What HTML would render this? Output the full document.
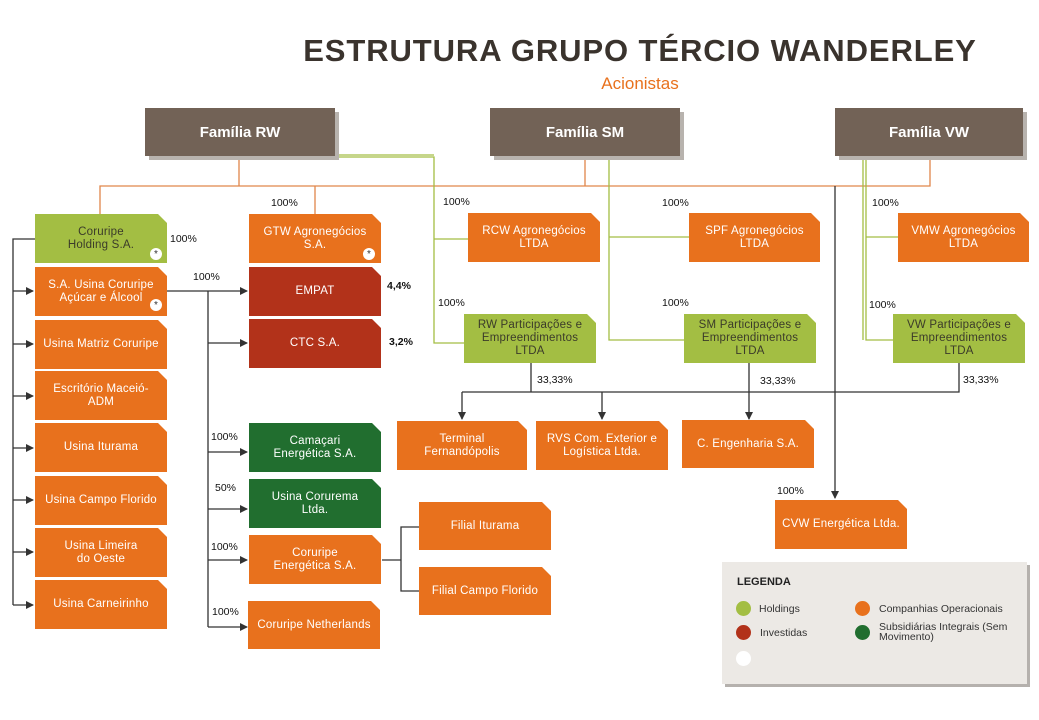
<!DOCTYPE html>
<html><head><meta charset="utf-8"><style>
body{margin:0;width:1039px;height:720px;background:#fff;position:relative;overflow:hidden;font-family:"Liberation Sans",sans-serif}
.b{position:absolute;color:#fff;font-size:11.5px;line-height:13px;display:flex;align-items:center;justify-content:center;text-align:center;clip-path:polygon(0 0,calc(100% - 9px) 0,100% 9px,100% 100%,0 100%);letter-spacing:.2px}
.o{background:#e8711d}.g{background:#a3be43;color:#3b3b2a}.r{background:#b2321a}.d{background:#216e2f}
.f{position:absolute;background:#726256;color:#fff;font-weight:bold;font-size:15px;display:flex;align-items:center;justify-content:center;box-shadow:4px 4px 0 #b8b3ae}
.p{position:absolute;font-size:10.5px;color:#111}
.s{position:absolute;width:12px;height:12px;border-radius:50%;background:#fff;color:#333;font-size:10px;line-height:14px;text-align:center}
.dot{position:absolute;width:15px;height:15px;border-radius:50%}
.lt{position:absolute;font-size:10.5px;color:#333;line-height:10px}
</style></head><body>
<div style="position:absolute;left:0;width:1280px;top:33px;text-align:center;font-weight:bold;font-size:31px;color:#3a332d;letter-spacing:0.9px">ESTRUTURA GRUPO TÉRCIO WANDERLEY</div>
<div style="position:absolute;left:0;width:1280px;top:74px;text-align:center;font-size:17px;color:#e8711d">Acionistas</div>
<svg width="1039" height="720" style="position:absolute;left:0;top:0">
<defs><marker id="a" markerWidth="8" markerHeight="8" refX="7" refY="4" orient="auto" markerUnits="userSpaceOnUse"><path d="M0,0 L8,4 L0,8z" fill="#333"/></marker></defs>
<g stroke="#e0864a" stroke-width="1.3" fill="none">
<path d="M100,214V186H930V156M239,156V186M585,156V186M315,186V214"/>
</g>
<g stroke="#a3be43" stroke-width="1.3" fill="none">
<path d="M239,157H434V343H464M328,155H434M434,239H468M609,157V340H684M609,237H689M866,157V340H893M866,237H898M863,157V340"/>
</g>
<g stroke="#333" stroke-width="1.3" fill="none">
<path d="M35,239H13V605"/>
<path d="M13,291H33" marker-end="url(#a)"/><path d="M13,344H33" marker-end="url(#a)"/><path d="M13,396H33" marker-end="url(#a)"/><path d="M13,448H33" marker-end="url(#a)"/><path d="M13,500H33" marker-end="url(#a)"/><path d="M13,552H33" marker-end="url(#a)"/><path d="M13,605H33" marker-end="url(#a)"/>
<path d="M167,291H247" marker-end="url(#a)"/>
<path d="M208,291V627"/>
<path d="M208,343H247" marker-end="url(#a)"/><path d="M208,452H247" marker-end="url(#a)"/><path d="M208,509H247" marker-end="url(#a)"/><path d="M208,560H247" marker-end="url(#a)"/><path d="M208,627H247" marker-end="url(#a)"/>
<path d="M382,560H401V527H419M401,560V591H419"/>
<path d="M531,363V392M462,392H959V363"/>
<path d="M462,392V419" marker-end="url(#a)"/><path d="M602,392V419" marker-end="url(#a)"/><path d="M749,363V419" marker-end="url(#a)"/>
<path d="M835,186V498" marker-end="url(#a)"/>
</g>
</svg>
<div class="f" style="left:145px;top:108px;width:190px;height:48px">Família RW</div>
<div class="f" style="left:490px;top:108px;width:190px;height:48px">Família SM</div>
<div class="f" style="left:835px;top:108px;width:188px;height:48px">Família VW</div>

<div class="b g" style="left:35px;top:214px;width:132px;height:49px">Coruripe<br>Holding S.A.</div>
<div class="b o" style="left:35px;top:267px;width:132px;height:49px">S.A. Usina Coruripe<br>Açúcar e Álcool</div>
<div class="b o" style="left:35px;top:320px;width:132px;height:49px">Usina Matriz Coruripe</div>
<div class="b o" style="left:35px;top:371px;width:132px;height:49px">Escritório Maceió-<br>ADM</div>
<div class="b o" style="left:35px;top:423px;width:132px;height:49px">Usina Iturama</div>
<div class="b o" style="left:35px;top:476px;width:132px;height:49px">Usina Campo Florido</div>
<div class="b o" style="left:35px;top:528px;width:132px;height:49px">Usina Limeira<br>do Oeste</div>
<div class="b o" style="left:35px;top:580px;width:132px;height:49px">Usina Carneirinho</div>
<div class="s" style="left:150px;top:248px">*</div>
<div class="s" style="left:150px;top:299px">*</div>

<div class="b o" style="left:249px;top:214px;width:132px;height:49px">GTW Agronegócios<br>S.A.</div>
<div class="s" style="left:363px;top:248px">*</div>
<div class="b r" style="left:249px;top:267px;width:132px;height:49px">EMPAT</div>
<div class="b r" style="left:249px;top:319px;width:132px;height:49px">CTC S.A.</div>
<div class="b d" style="left:249px;top:423px;width:132px;height:49px">Camaçari<br>Energética S.A.</div>
<div class="b d" style="left:249px;top:479px;width:132px;height:49px">Usina Corurema<br>Ltda.</div>
<div class="b o" style="left:249px;top:535px;width:132px;height:49px">Coruripe<br>Energética S.A.</div>
<div class="b o" style="left:248px;top:601px;width:132px;height:48px">Coruripe Netherlands</div>
<div class="b o" style="left:419px;top:502px;width:132px;height:48px">Filial Iturama</div>
<div class="b o" style="left:419px;top:567px;width:132px;height:48px">Filial Campo Florido</div>

<div class="b o" style="left:468px;top:213px;width:132px;height:49px">RCW Agronegócios<br>LTDA</div>
<div class="b o" style="left:689px;top:213px;width:131px;height:49px">SPF Agronegócios<br>LTDA</div>
<div class="b o" style="left:898px;top:213px;width:131px;height:49px">VMW Agronegócios<br>LTDA</div>
<div class="b g" style="left:464px;top:314px;width:132px;height:49px">RW Participações e<br>Empreendimentos<br>LTDA</div>
<div class="b g" style="left:684px;top:314px;width:132px;height:49px">SM Participações e<br>Empreendimentos<br>LTDA</div>
<div class="b g" style="left:893px;top:314px;width:132px;height:49px">VW Participações e<br>Empreendimentos<br>LTDA</div>
<div class="b o" style="left:397px;top:421px;width:130px;height:49px">Terminal<br>Fernandópolis</div>
<div class="b o" style="left:536px;top:421px;width:132px;height:49px">RVS Com. Exterior e<br>Logística Ltda.</div>
<div class="b o" style="left:682px;top:420px;width:132px;height:48px">C. Engenharia S.A.</div>
<div class="b o" style="left:775px;top:500px;width:132px;height:49px">CVW Energética Ltda.</div>

<div class="p" style="left:170px;top:233px">100%</div>
<div class="p" style="left:271px;top:197px">100%</div>
<div class="p" style="left:193px;top:271px">100%</div>
<div class="p" style="left:387px;top:280px;font-weight:bold">4,4%</div>
<div class="p" style="left:389px;top:336px;font-weight:bold">3,2%</div>
<div class="p" style="left:443px;top:196px">100%</div>
<div class="p" style="left:662px;top:197px">100%</div>
<div class="p" style="left:872px;top:197px">100%</div>
<div class="p" style="left:438px;top:297px">100%</div>
<div class="p" style="left:662px;top:297px">100%</div>
<div class="p" style="left:869px;top:299px">100%</div>
<div class="p" style="left:537px;top:374px">33,33%</div>
<div class="p" style="left:760px;top:375px">33,33%</div>
<div class="p" style="left:963px;top:374px">33,33%</div>
<div class="p" style="left:211px;top:431px">100%</div>
<div class="p" style="left:215px;top:482px">50%</div>
<div class="p" style="left:211px;top:541px">100%</div>
<div class="p" style="left:212px;top:606px">100%</div>
<div class="p" style="left:777px;top:485px">100%</div>

<div style="position:absolute;left:722px;top:562px;width:305px;height:122px;background:#ece9e5;box-shadow:3px 3px 0 #b5b1ad">
<div style="position:absolute;left:15px;top:14px;font-weight:bold;font-size:11px;color:#222">LEGENDA</div>
<div class="dot" style="left:14px;top:39px;background:#a3be43"></div><div class="lt" style="left:37px;top:42px">Holdings</div>
<div class="dot" style="left:14px;top:63px;background:#b2321a"></div><div class="lt" style="left:38px;top:66px">Investidas</div>
<div class="dot" style="left:14px;top:89px;background:#fff"></div>
<div class="dot" style="left:133px;top:39px;background:#e8711d"></div><div class="lt" style="left:157px;top:42px">Companhias Operacionais</div>
<div class="dot" style="left:133px;top:63px;background:#216e2f"></div><div class="lt" style="left:157px;top:60px">Subsidiárias Integrais (Sem<br>Movimento)</div>
</div>
</body></html>
